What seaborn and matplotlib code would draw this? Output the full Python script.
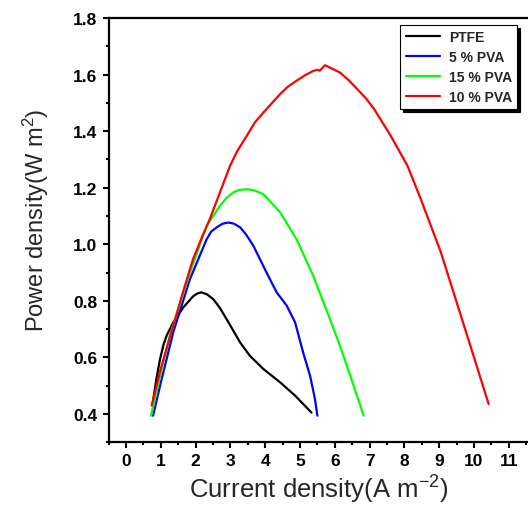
import matplotlib
matplotlib.use("Agg")
import matplotlib.pyplot as plt
from matplotlib.ticker import MultipleLocator, FormatStrFormatter
import seaborn as sns
import pandas as pd

# ---- data ----
labels = ["PTFE", "5 % PVA", "15 % PVA", "10 % PVA"]
colors = ["#000000", "#0000ff", "#00ff00", "#ff0000"]

ptfe_x = [0.76, 0.87, 0.98, 1.08, 1.17, 1.36, 1.65, 1.93, 2.05, 2.17, 2.33, 2.51, 2.7, 2.89, 3.28, 3.56, 3.95, 4.43, 4.86, 5.33]
ptfe_y = [0.43, 0.52, 0.594, 0.645, 0.677, 0.724, 0.777, 0.816, 0.826, 0.83, 0.823, 0.806, 0.775, 0.736, 0.653, 0.606, 0.559, 0.512, 0.465, 0.405]

pva5_x = [0.78, 1.0, 1.36, 1.84, 2.32, 2.45, 2.61, 2.78, 2.94, 3.1, 3.28, 3.45, 3.66, 4.04, 4.33, 4.62, 4.86, 5.09, 5.29, 5.43, 5.5]
pva5_y = [0.394, 0.51, 0.689, 0.877, 1.018, 1.045, 1.06, 1.073, 1.077, 1.073, 1.06, 1.035, 0.995, 0.90, 0.83, 0.783, 0.724, 0.618, 0.535, 0.453, 0.394]

pva15_x = [0.72, 1.0, 1.26, 1.84, 2.32, 2.70, 2.9, 3.08, 3.25, 3.47, 3.7, 3.95, 4.43, 4.90, 5.38, 5.86, 6.15, 6.5, 6.83]
pva15_y = [0.394, 0.545, 0.677, 0.90, 1.065, 1.136, 1.165, 1.183, 1.192, 1.195, 1.19, 1.177, 1.113, 1.018, 0.889, 0.736, 0.641, 0.515, 0.394]

pva10_x = [0.74, 1.0, 1.36, 1.65, 1.93, 2.2, 2.41, 2.70, 2.99, 3.2, 3.47, 3.7, 3.95, 4.2, 4.43, 4.65, 4.90, 5.15, 5.38, 5.50, 5.57, 5.72, 6.15, 6.4, 6.65, 6.9, 7.13, 7.61, 8.09, 8.47, 9.05, 9.5, 10.0, 10.42]
pva10_y = [0.43, 0.56, 0.712, 0.835, 0.948, 1.03, 1.089, 1.183, 1.277, 1.33, 1.383, 1.43, 1.466, 1.50, 1.531, 1.557, 1.578, 1.598, 1.613, 1.617, 1.614, 1.633, 1.607, 1.58, 1.548, 1.515, 1.478, 1.383, 1.277, 1.16, 0.971, 0.795, 0.60, 0.435]

x_ticks = list(range(0, 12))
y_ticks = [0.4, 0.6, 0.8, 1.0, 1.2, 1.4, 1.6, 1.8]

series = [(ptfe_x, ptfe_y), (pva5_x, pva5_y), (pva15_x, pva15_y), (pva10_x, pva10_y)]

sns.set_style("ticks")
plt.rcParams["font.family"] = ["Liberation Sans", "DejaVu Sans"]
plt.rcParams["mathtext.fontset"] = "custom"
plt.rcParams["mathtext.rm"] = "Liberation Sans"
plt.rcParams["mathtext.it"] = "Liberation Sans"

fig = plt.figure(figsize=(5.28, 5.10), dpi=100)
ax = fig.add_axes([108.5 / 528, 1 - 443.3 / 510, 1 - 108.5 / 528, (443.3 - 19) / 510])

for (xs, ys), lab, col in zip(series, labels, colors):
    df = pd.DataFrame({"x": xs, "y": ys})
    sns.lineplot(data=df, x="x", y="y", ax=ax, color=col, label=lab,
                 sort=False, estimator=None, linewidth=1.6)

ax.set_xlim(-0.5, 11.55)
ax.set_ylim(0.3, 1.8)
ax.set_xticks(x_ticks)
ax.set_yticks(y_ticks)
ax.xaxis.set_minor_locator(MultipleLocator(0.5))
ax.yaxis.set_minor_locator(MultipleLocator(0.1))
ax.yaxis.set_major_formatter(FormatStrFormatter("%.1f"))

for s in ["left", "bottom", "top"]:
    ax.spines[s].set_linewidth(1.6)
    ax.spines[s].set_color("black")
ax.spines["right"].set_visible(False)

ax.tick_params(which="major", direction="out", length=4, width=1.5,
               labelsize=12.5, colors="black", pad=4)
ax.tick_params(which="minor", direction="out", length=2.5, width=1.5, colors="black")
for t in ax.get_xticklabels() + ax.get_yticklabels():
    t.set_fontweight("bold")

ax.set_xlabel("Current density(A m$^{-2}$)", fontsize=18.5, labelpad=3)
ax.set_ylabel("Power density(W m$^{2}$)", fontsize=17, labelpad=16)
ax.yaxis.label.set_y(0.525)

leg = ax.legend(loc="upper right", bbox_to_anchor=(0.974, 0.9835), borderaxespad=0,
                fancybox=False, frameon=True, edgecolor="black",
                shadow={"color": "black", "alpha": 1.0},
                prop={"weight": "bold", "size": 10},
                handlelength=2.5, handletextpad=0.6, labelspacing=0.42,
                borderpad=0.38)
leg.get_frame().set_linewidth(0.8)
leg.get_frame().set_alpha(1.0)

fig.savefig("out.png", dpi=100)
